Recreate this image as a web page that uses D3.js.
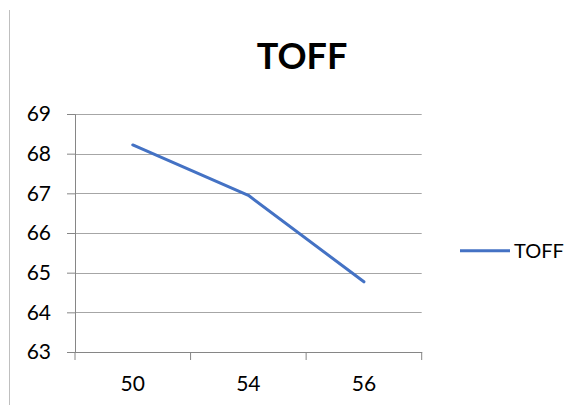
<!DOCTYPE html>
<html><head><meta charset="utf-8">
<script src="https://cdn.jsdelivr.net/npm/d3@7/dist/d3.min.js"></script>
<style>body{margin:0;background:#fff}svg{display:block}</style>
</head><body>
<svg id="c" width="587" height="409"></svg>
<script>
const categories = ["50", "54", "56"];
const seriesName = "TOFF";
const values = [68.22, 66.95, 64.77];
const yTicks = [63, 64, 65, 66, 67, 68, 69];
const title = "TOFF";

const svg = d3.select("#c");
const font = "Lato, 'Open Sans', sans-serif";
const m = {left: 75, right: 421.7, top: 114, bottom: 352};

// page border line at left
svg.append("line").attr("x1", 9.5).attr("x2", 9.5).attr("y1", 10).attr("y2", 405)
  .attr("stroke", "#bfbfbf").attr("stroke-width", 1);

const x = d3.scaleBand().domain(categories).range([m.left, m.right]).padding(0);
const y = d3.scaleLinear().domain([63, 69]).range([m.bottom, m.top]);

// gridlines
svg.append("g").selectAll("line").data(yTicks).join("line")
  .attr("x1", m.left).attr("x2", m.right)
  .attr("y1", d => Math.round(y(d)) + 0.5).attr("y2", d => Math.round(y(d)) + 0.5)
  .attr("stroke", "#a6a6a6").attr("stroke-width", 1);

// y axis
const yAxis = svg.append("g").attr("transform", `translate(${m.left},0)`)
  .call(d3.axisLeft(y).tickValues(yTicks).tickSize(8).tickPadding(16).tickFormat(d3.format("d")));
yAxis.select(".domain").attr("stroke", "#868686");
yAxis.selectAll(".tick line").attr("stroke", "#868686");
yAxis.selectAll("text").attr("font-family", font).attr("font-size", 21).attr("fill", "#000");

// x axis
const xAxis = svg.append("g").attr("transform", `translate(0,${m.bottom})`)
  .call(d3.axisBottom(x).tickSize(0).tickPadding(24));
xAxis.select(".domain").attr("stroke", "#868686");
xAxis.selectAll("text").attr("font-family", font).attr("font-size", 21).attr("fill", "#000");
// category boundary ticks
const bounds = categories.map(c => x(c)).concat([x(categories[categories.length - 1]) + x.bandwidth()]);
svg.append("g").selectAll("line").data(bounds).join("line")
  .attr("x1", d => d).attr("x2", d => d).attr("y1", m.bottom).attr("y2", m.bottom + 8)
  .attr("stroke", "#868686");

// line
const line = d3.line().x((d, i) => x(categories[i]) + x.bandwidth() / 2).y(d => y(d));
svg.append("path").datum(values).attr("d", line)
  .attr("fill", "none").attr("stroke", "#4472C4").attr("stroke-width", 3).attr("stroke-linejoin", "round").attr("stroke-linecap", "round");

// title
svg.append("text").attr("x", 302).attr("y", 69).attr("text-anchor", "middle")
  .attr("font-family", font).attr("font-weight", "bold").attr("font-size", 36).text(title);

// legend
svg.append("line").attr("x1", 460).attr("x2", 510).attr("y1", 250.7).attr("y2", 250.7)
  .attr("stroke", "#4472C4").attr("stroke-width", 3);
svg.append("text").attr("x", 514).attr("y", 258).attr("font-family", font).attr("font-size", 20).text(seriesName);
</script>
</body></html>
